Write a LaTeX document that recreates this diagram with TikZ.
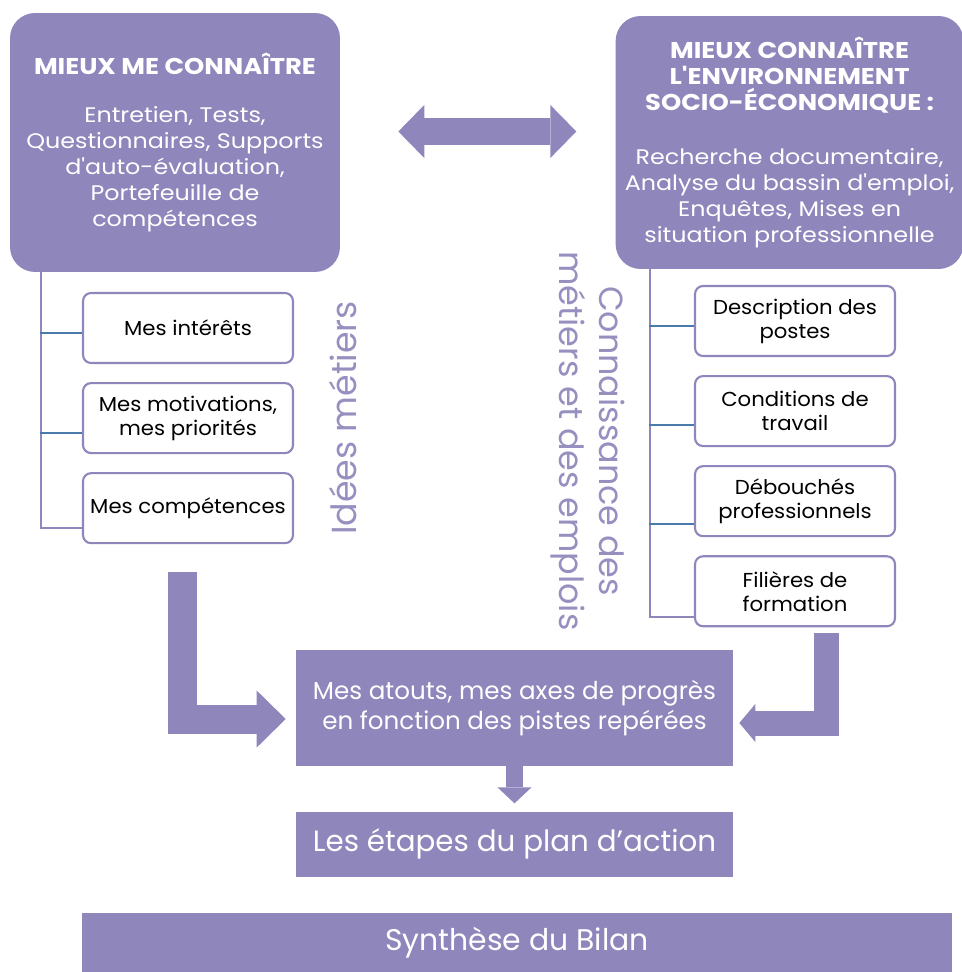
\documentclass[tikz,border=0pt]{standalone}
\usepackage{fontspec}
\setmainfont{Poppins}[Ligatures=TeXOff]
\newfontfamily\widefont{Poppins}[Ligatures=TeXOff, FakeStretch=1.13]
\newfontfamily\leaffont{Poppins}[Ligatures=TeXOff, FakeStretch=1.05]
\usetikzlibrary{arrows.meta, positioning}
\definecolor{bilanpurple}{RGB}{143,134,188}
\definecolor{bilanblue}{RGB}{72,122,172}
\definecolor{bilangrey}{RGB}{150,144,192}

\tikzset{
  mainbox/.style={fill=bilanpurple, text=white, rounded corners=0.5cm, align=center, inner sep=0pt,
                  font=\widefont\fontsize{12}{14.8}\selectfont},
  leafbox/.style={draw=bilanpurple, line width=1.2pt, fill=white, rounded corners=0.16cm, align=center,
                  minimum height=1.4cm, inner sep=2pt, font=\leaffont\fontsize{11.5}{13.7}\selectfont},
  flatbox/.style={fill=bilanpurple, text=white, align=center, inner sep=0pt},
  trunk/.style={draw=bilanpurple, line width=1.3pt},
  branch/.style={draw=bilanblue, line width=1.3pt},
  bigarrow/.style={draw=bilanpurple, line join=miter},
  sidelabel/.style={text=bilangrey, align=center, font=\fontsize{19}{23}\selectfont},
}
\newcommand{\boxtitle}[1]{{\fontsize{13}{15}\selectfont\bfseries #1}}

\begin{document}
\begin{tikzpicture}[x=0.02cm, y=-0.02cm]
  \useasboundingbox (0,0) rectangle (961,972);

  % the two starting blocks
  \node[mainbox, minimum width=6.6cm, minimum height=5.18cm] (self) at (175,142.5)
       {\boxtitle{MIEUX ME CONNAÎTRE}\\[12pt]
        Entretien, Tests,\\Questionnaires, Supports\\d'auto-évaluation,\\Portefeuille de\\compétences};
  \node[mainbox, right=5.5cm of self, minimum width=6.96cm, minimum height=5.06cm] (env)
       {\boxtitle{MIEUX CONNAÎTRE}\\\boxtitle{L'ENVIRONNEMENT}\\\boxtitle{SOCIO-ÉCONOMIQUE :}\\[16pt]
        Recherche documentaire,\\Analyse du bassin d'emploi,\\Enquêtes, Mises en\\situation professionnelle};

  \draw[bigarrow, line width=0.54cm,
        {Triangle[length=0.52cm, width=1.06cm, line width=0pt]}-{Triangle[length=0.52cm, width=1.06cm, line width=0pt]}]
       ([shift={(58,-11)}]self.east) -- ++(178,0);

  % what I bring
  \node[leafbox, minimum width=4.2cm] (likes) at (188,328) {Mes intérêts};
  \node[leafbox, minimum width=4.2cm, below=0.36cm of likes] (drives) {Mes motivations,\\mes priorités};
  \node[leafbox, minimum width=4.2cm, below=0.36cm of drives] (skills) {Mes compétences};

  \coordinate (lfoot) at (41,528);
  \draw[trunk] (self.south -| lfoot) -- (lfoot) -- (lfoot -| skills.west);
  \foreach \leaf/\dy in {likes/5, drives/15}
    \draw[branch] ([shift={(0,\dy)}]\leaf.west) -- ++(-42,0);

  % what the job market looks like
  \node[leafbox, minimum width=4cm] (tasks) at (795,321) {Description des\\postes};
  \node[leafbox, minimum width=4cm, below=0.36cm of tasks] (work) {Conditions de\\travail};
  \node[leafbox, minimum width=4cm, below=0.36cm of work] (outlets) {Débouchés\\professionnels};
  \node[leafbox, minimum width=4cm, below=0.36cm of outlets] (tracks) {Filières de\\formation};

  \coordinate (rfoot) at (650,617);
  \draw[trunk] (env.south -| rfoot) -- (rfoot) -- (rfoot -| tracks.west);
  \foreach \leaf/\dy in {tasks/5, work/14, outlets/23}
    \draw[branch] ([shift={(0,\dy)}]\leaf.west) -- ++(-45,0);

  \node[sidelabel, rotate=90, font=\fontsize{19.8}{23}\selectfont] (ideas) at (343,418) {Idées métiers};
  \node[sidelabel, rotate=-90] (knowhow) at (588,441) {Connaissance des\\métiers et des emplois};

  % results
  \node[flatbox, minimum width=8.74cm, minimum height=2.32cm, font=\fontsize{14}{17}\selectfont] (atouts)
       at (514.5,708) {Mes atouts, mes axes de progrès\\en fonction des pistes repérées};
  \node[flatbox, below=0.9cm of atouts, minimum width=8.74cm, minimum height=1.3cm,
        font=\fontsize{16.7}{20}\selectfont] (steps) {Les étapes du plan d’action};
  \node[flatbox, minimum width=17.4cm, minimum height=1.18cm, font=\fontsize{17}{20}\selectfont] (bilan)
       at (517,942.5) {Synthèse du Bilan};

  \coordinate (lstart) at (182.5,572);
  \coordinate (rstart) at (826.5,633);
  \draw[bigarrow, line width=0.58cm, -{Triangle[length=0.58cm, width=1.14cm, line width=0pt]}]
       (lstart) |- ([shift={(-10,11)}]atouts.west);
  \draw[bigarrow, line width=0.5cm, -{Triangle[length=0.32cm, width=0.76cm, line width=0pt]}]
       (rstart) |- ([shift={(6,15)}]atouts.east);
  \draw[bigarrow, line width=0.34cm, -{Triangle[length=0.32cm, width=0.68cm, line width=0pt]},
        shorten >=0.16cm] (atouts.south) -- (steps.north);
\end{tikzpicture}
\end{document}
